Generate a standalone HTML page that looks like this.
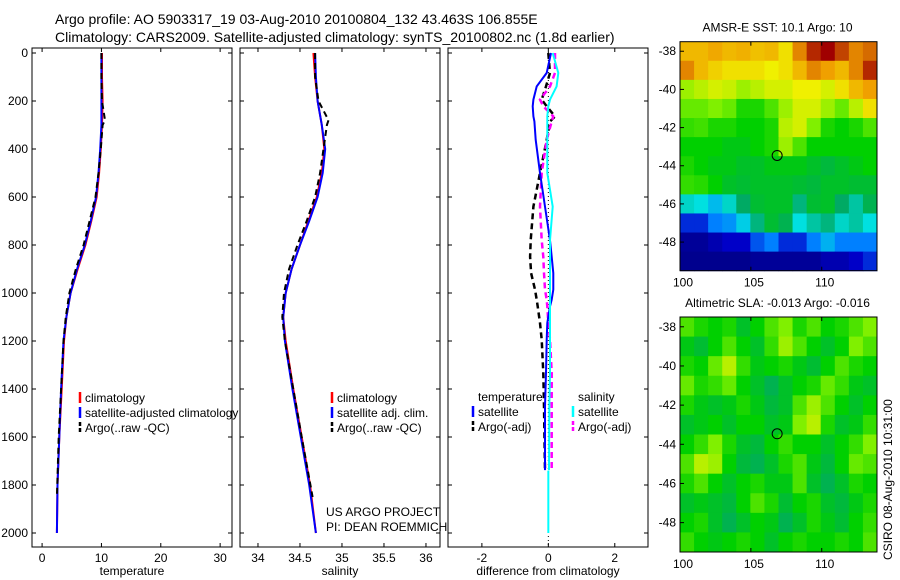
<!DOCTYPE html>
<html><head><meta charset="utf-8"><style>
body{margin:0;background:#fff}
svg{display:block;font-family:"Liberation Sans",sans-serif;font-size:12px}
</style></head><body>
<svg id="c" width="900" height="580" xmlns="http://www.w3.org/2000/svg">
<text x="55" y="24" font-size="14">Argo profile: AO 5903317_19 03-Aug-2010 20100804_132 43.463S 106.855E</text>
<text x="55" y="42" font-size="14">Climatology: CARS2009. Satellite-adjusted climatology: synTS_20100802.nc (1.8d earlier)</text>
</svg>
<script>
const NS="http://www.w3.org/2000/svg";
const svg=document.getElementById('c');
function el(tag,attrs,parent){const e=document.createElementNS(NS,tag);for(const k in attrs)e.setAttribute(k,attrs[k]);(parent||svg).appendChild(e);return e;}

// ---------- data ----------
const depthTicks=[0,200,400,600,800,1000,1200,1400,1600,1800,2000];
const profDepths=[0,100,200,300,400,500,600,700,800,900,1000,1100,1200,1400,1600,1800,2000];
const tempClim=[10.1,10.1,10.2,10.1,9.9,9.6,9.2,8.3,7.3,6.0,4.8,4.1,3.7,3.3,2.9,2.6,2.5];
const tempSat=[10.0,10.0,10.0,10.0,9.8,9.5,9.1,8.2,7.2,5.9,4.8,4.1,3.6,3.2,2.9,2.6,2.5];
const argoDepths=[0,100,200,280,300,400,500,600,700,800,900,1000,1100,1200,1400,1600,1850];
const tempArgo=[10.0,10.0,10.1,10.6,10.2,9.9,9.5,9.0,8.0,7.0,5.7,4.6,4.0,3.6,3.2,2.8,2.5];
const salClim=[34.66,34.68,34.71,34.76,34.79,34.76,34.70,34.60,34.50,34.40,34.33,34.30,34.33,34.42,34.52,34.62,34.69];
const salSat=[34.68,34.69,34.71,34.76,34.80,34.77,34.71,34.61,34.50,34.40,34.33,34.30,34.32,34.41,34.51,34.61,34.69];
const salArgo=[34.68,34.68,34.72,34.84,34.82,34.78,34.74,34.68,34.58,34.47,34.37,34.31,34.29,34.32,34.42,34.52,34.65];
const diffDepths=[0,83,139,194,222,264,285,362,500,640,780,849,917,986,1028,1056,1125,1194,1333,1472,1738];
const dTempSat=[0.08,-0.05,-0.35,-0.45,-0.47,-0.45,-0.42,-0.38,-0.25,-0.1,0.05,0.1,0.15,0.15,0.1,0.05,-0.03,-0.05,-0.07,-0.1,-0.1];
const dTempArgo=[0,0.05,-0.07,-0.2,-0.05,0.2,0.05,-0.05,-0.25,-0.45,-0.53,-0.55,-0.52,-0.4,-0.35,-0.32,-0.25,-0.2,-0.15,-0.13,-0.1];
const dSalSat=[0.13,0.3,0.25,0.05,0.0,-0.03,-0.03,-0.03,-0.03,0.13,0.05,0.05,0.05,0.05,0.05,0.05,0.05,0.05,0.05,0.03,0.02];
const dSalArgo=[0.2,0.2,0.05,-0.25,-0.15,0.15,0.1,-0.05,-0.2,-0.25,-0.2,-0.15,-0.13,-0.1,-0.05,-0.03,0,0.05,0.1,0.1,0.1];

const sstGrid=[
[.85,.85,.87,.85,.86,.84,.85,.8,.9,.97,1,.95,.9,.92],
[.9,.85,.82,.8,.8,.8,.78,.8,.85,.9,.88,.85,.9,.97],
[.72,.74,.76,.75,.72,.74,.76,.76,.78,.78,.76,.8,.85,.88],
[.68,.68,.70,.68,.62,.62,.66,.72,.76,.76,.72,.68,.74,.8],
[.64,.65,.62,.62,.6,.6,.62,.74,.76,.7,.62,.6,.62,.66],
[.6,.6,.6,.58,.58,.6,.62,.72,.66,.6,.6,.6,.6,.6],
[.62,.6,.58,.58,.56,.56,.58,.58,.58,.56,.54,.56,.58,.6],
[.64,.63,.6,.56,.55,.56,.56,.56,.55,.54,.56,.56,.55,.55],
[.42,.4,.36,.42,.5,.55,.56,.56,.48,.55,.56,.5,.45,.52],
[.2,.2,.3,.32,.38,.48,.55,.52,.4,.45,.48,.42,.45,.4],
[.05,.05,.1,.15,.15,.25,.3,.2,.2,.3,.35,.3,.3,.3],
[.03,.03,.03,.03,.03,.05,.05,.05,.05,.05,.1,.1,.15,.2]];
const slaGrid=[
[.66,.62,.6,.62,.56,.6,.66,.7,.62,.66,.6,.62,.66,.7],
[.58,.55,.6,.66,.6,.56,.64,.72,.66,.6,.56,.6,.7,.66],
[.62,.6,.68,.74,.64,.58,.6,.62,.58,.55,.6,.66,.62,.6],
[.68,.62,.64,.68,.6,.56,.52,.56,.6,.62,.68,.64,.58,.56],
[.62,.58,.56,.58,.62,.58,.54,.56,.66,.72,.66,.6,.56,.6],
[.56,.58,.6,.56,.6,.6,.56,.58,.7,.74,.62,.56,.58,.64],
[.6,.64,.7,.62,.56,.54,.6,.64,.6,.6,.56,.6,.64,.7],
[.66,.74,.72,.6,.54,.52,.56,.62,.66,.58,.54,.6,.68,.66],
[.62,.66,.6,.56,.6,.62,.58,.58,.66,.56,.52,.56,.62,.6],
[.56,.58,.56,.54,.6,.66,.62,.55,.6,.62,.56,.54,.58,.62],
[.6,.62,.56,.52,.56,.6,.58,.52,.56,.62,.58,.55,.6,.64],
[.64,.6,.58,.6,.62,.6,.56,.6,.62,.6,.6,.62,.6,.66]];
const latTicks=[-38,-40,-42,-44,-46,-48];
const lonTicks=[100,105,110];
const argoLon=106.855, argoLat=-43.463;

// ---------- profile panels ----------
const yD=d=>53+d*0.24;
const PT=48,PB=547;
function panel(name,x0,x1,xmin,xmax,xticks,xlab,showY){
  const xs=v=>x0+(v-xmin)/(xmax-xmin)*(x1-x0);
  const g=el('g',{});
  
  
  el('rect',{x:x0,y:PT,width:x1-x0,height:PB-PT,fill:'#fff',stroke:'#000','stroke-width':1},g);
  depthTicks.forEach(d=>{
    el('line',{x1:x0,x2:x0+4,y1:yD(d),y2:yD(d),stroke:'#000'},g);
    el('line',{x1:x1,x2:x1-4,y1:yD(d),y2:yD(d),stroke:'#000'},g);
    if(showY){const t=el('text',{x:x0-4,y:yD(d)+4,'text-anchor':'end'},g);t.textContent=d;
      }
  });
  xticks.forEach(v=>{
    el('line',{x1:xs(v),x2:xs(v),y1:PB,y2:PB-4,stroke:'#000'},g);
    el('line',{x1:xs(v),x2:xs(v),y1:PT,y2:PT+4,stroke:'#000'},g);
    const t=el('text',{x:xs(v),y:PB+15,'text-anchor':'middle'},g);t.textContent=v;
    
  });
  const l=el('text',{x:(x0+x1)/2,y:575,'text-anchor':'middle'},g);l.textContent=xlab;
  
  return {g,xs};
}
function line(p,vals,depths,color,dash,w,name){
  const pts=vals.map((v,i)=>p.xs(v).toFixed(1)+','+yD(depths[i]).toFixed(1)).join(' ');
  const e=el('polyline',{points:pts,fill:'none',stroke:color,'stroke-width':w||2,'stroke-dasharray':dash||''},p.g);
  
  
}
function legend(p,x,y,items){
  items.forEach((it,i)=>{
    if(it.c) el('line',{x1:x,x2:x,y1:y+i*15-10,y2:y+i*15+1,stroke:it.c,'stroke-width':2.5,'stroke-dasharray':it.d||''},p.g);
    const t=el('text',{x:x+5,y:y+i*15},p.g);t.textContent=it.t;
    
  });
}

const p1=panel('temperature-panel',32,232,-1.7,32,[0,10,20,30],'temperature',true);
line(p1,tempClim,profDepths,'#f00','',2,'temp-climatology-line');
line(p1,tempSat,profDepths,'#00f','',2,'temp-satellite-line');
line(p1,tempArgo,argoDepths,'#000','6,4',2,'temp-argo-line');
legend(p1,80,402,[{t:'climatology',c:'#f00'},{t:'satellite-adjusted climatology',c:'#00f'},{t:'Argo(..raw -QC)',c:'#000',d:'4,2'}]);

const p2=panel('salinity-panel',240,440,33.786,36.167,[34,34.5,35,35.5,36],'salinity',false);
line(p2,salClim,profDepths,'#f00','',2,'sal-climatology-line');
line(p2,salSat,profDepths,'#00f','',2,'sal-satellite-line');
line(p2,salArgo,argoDepths,'#000','6,4',2,'sal-argo-line');
legend(p2,332,402,[{t:'climatology',c:'#f00'},{t:'satellite adj. clim.',c:'#00f'},{t:'Argo(..raw -QC)',c:'#000',d:'4,2'}]);
let t=el('text',{x:326,y:516},p2.g);t.textContent='US ARGO PROJECT';

t=el('text',{x:326,y:531},p2.g);t.textContent='PI: DEAN ROEMMICH';


const p3=panel('difference-panel',448,648,-3.02,3.0,[-2,0,2],'difference from climatology',false);
el('line',{x1:p3.xs(0),x2:p3.xs(0),y1:PT,y2:PB,stroke:'#000','stroke-dasharray':'1,3'},p3.g);
el('line',{x1:p3.xs(0),x2:p3.xs(0),y1:yD(1740),y2:yD(2000),stroke:'#0ff','stroke-width':2},p3.g);
line(p3,dTempArgo,diffDepths,'#000','6,4',2.5,'diff-temp-argo-line');
line(p3,dSalArgo,diffDepths,'#f0f','6,4',2.5,'diff-sal-argo-line');
line(p3,dTempSat,diffDepths,'#00f','',2,'diff-temp-satellite-line');
line(p3,dSalSat,diffDepths,'#0ff','',2,'diff-sal-satellite-line');
legend(p3,473,401,[{t:'temperature'},{t:'satellite',c:'#00f'},{t:'Argo(-adj)',c:'#000',d:'4,2'}]);
legend(p3,573,401,[{t:'salinity'},{t:'satellite',c:'#0ff'},{t:'Argo(-adj)',c:'#f0f',d:'4,2'}]);

// ---------- maps ----------
const stops=[[0,[0,0,128]],[0.15,[0,0,200]],[0.3,[0,128,255]],[0.4,[0,224,224]],[0.5,[0,170,100]],[0.6,[0,208,0]],[0.7,[128,240,0]],[0.78,[240,240,0]],[0.88,[240,160,0]],[1,[160,0,0]]];
function cmap(v){for(let i=1;i<stops.length;i++){if(v<=stops[i][0]){const a=stops[i-1],b=stops[i],f=(v-a[0])/(b[0]-a[0]);return 'rgb('+a[1].map((c,k)=>Math.round(c+(b[1][k]-c)*f)).join(',')+')';}}return 'rgb(160,0,0)';}
function map(name,title,grid,top,bottom){
  const x0=680,x1=877,lon0=100,lon1=113.9,lat0=-37.5,lat1=-49.5;
  const xs=v=>x0+(v-lon0)/(lon1-lon0)*(x1-x0);
  const ys=v=>top+(v-lat0)/(lat1-lat0)*(bottom-top);
  const g=el('g',{});
  
  
  const nr=grid.length,nc=grid[0].length;
  grid.forEach((row,r)=>row.forEach((v,c)=>{
    const la=lat0-r*(lat0-lat1)/nr, lo=lon0+c*(lon1-lon0)/nc;
    const xa=xs(lo),xb=xs(lon0+(c+1)*(lon1-lon0)/nc),ya=ys(la),yb=ys(lat0-(r+1)*(lat0-lat1)/nr);
    const e=el('rect',{x:xa,y:ya,width:xb-xa+0.5,height:yb-ya+0.5,fill:cmap(v)},g);
    
    
  }));
  el('rect',{x:x0,y:top,width:x1-x0,height:bottom-top,fill:'none',stroke:'#000'},g);
  latTicks.forEach(v=>{el('line',{x1:x0,x2:x0+4,y1:ys(v),y2:ys(v),stroke:'#000'},g);
    const t=el('text',{x:x0-4,y:ys(v)+4,'text-anchor':'end'},g);t.textContent=v;
    });
  lonTicks.forEach(v=>{el('line',{x1:xs(v),x2:xs(v),y1:bottom,y2:bottom-4,stroke:'#000'},g);
    el('line',{x1:xs(v),x2:xs(v),y1:top,y2:top+4,stroke:'#000'},g);
    const t=el('text',{x:xs(v)+3,y:bottom+16,'text-anchor':'middle'},g);t.textContent=v;
    });
  const c=el('circle',{cx:xs(argoLon),cy:ys(argoLat),r:5,fill:'none',stroke:'#000'},g);
  
  
  const tt=el('text',{x:(x0+x1)/2-1,y:top-10,'text-anchor':'middle'},g);tt.textContent=title;
  
}
map('sst-map','AMSR-E SST: 10.1 Argo: 10',sstGrid,41.7,270.7);
map('sla-map','Altimetric SLA: -0.013 Argo: -0.016',slaGrid,317,552);
t=el('text',{x:0,y:0,transform:'translate(892,560) rotate(-90)'});t.textContent='CSIRO 08-Aug-2010 10:31:00';

</script>
</body></html>
